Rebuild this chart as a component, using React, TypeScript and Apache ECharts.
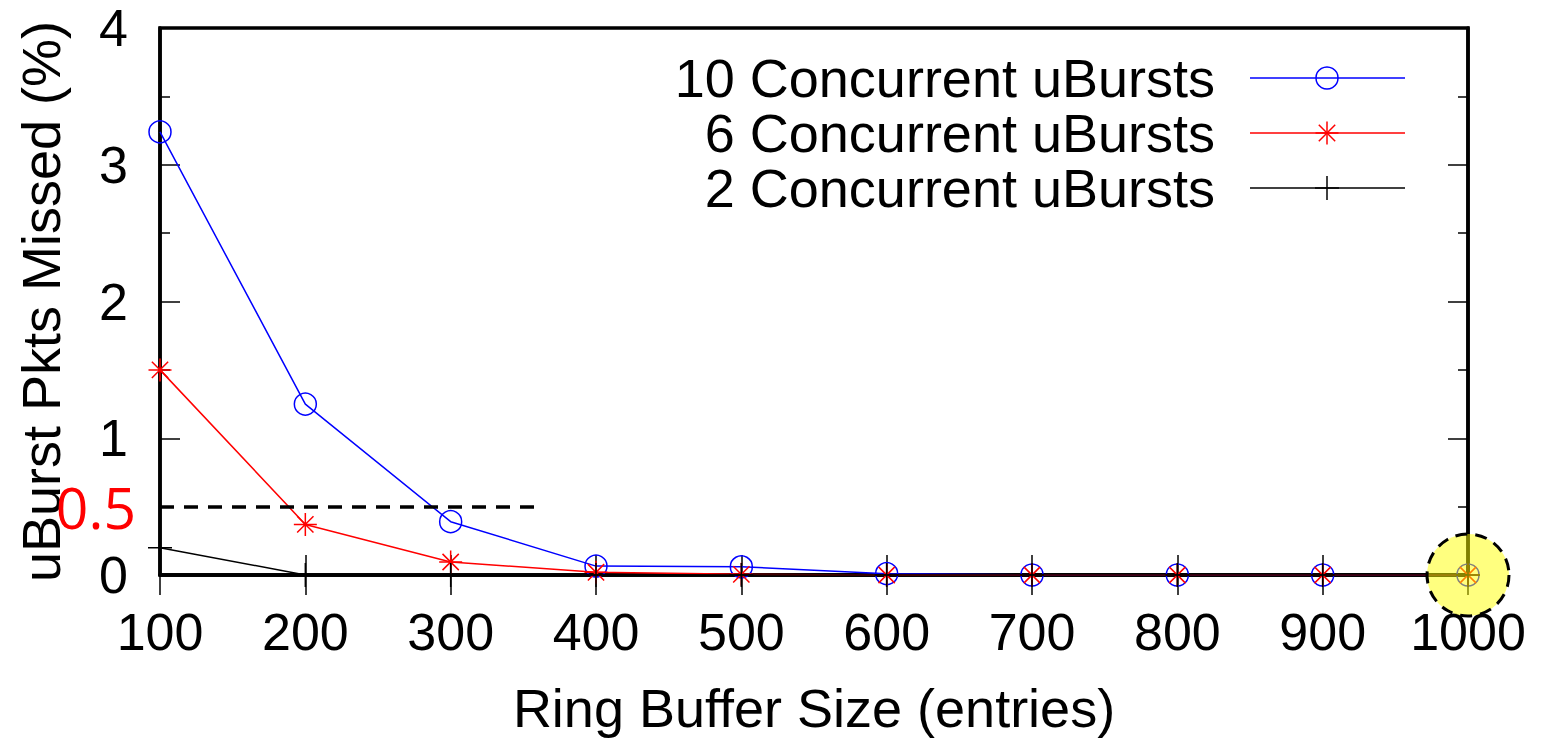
import React, { useEffect, useRef } from "react";
import * as echarts from "echarts";

const xValues = [100, 200, 300, 400, 500, 600, 700, 800, 900, 1000];
const tenBursts = [3.24, 1.25, 0.39, 0.065, 0.06, 0.01, 0, 0, 0, 0];
const sixBursts = [1.5, 0.37, 0.095, 0.02, 0.005, 0, 0, 0, 0, 0];
const twoBursts = [0.2, 0, 0, 0, 0, 0, 0, 0, 0, 0];
const seriesNames = ["10 Concurrent uBursts", "6 Concurrent uBursts", "2 Concurrent uBursts"];
const thresholdValue = 0.5;
const thresholdStartX = 100;
const thresholdEndX = 360;
const highlightPoint = [1000, 0];

const FONT = "'Liberation Sans', Arial, sans-serif";
const ASTERISK = "path://M12,0L12,24M0,12L24,12M3.5,3.5L20.5,20.5M3.5,20.5L20.5,3.5";
const PLUS = "path://M12,0L12,24M0,12L24,12";

function pairs(ys: number[]) {
  return xValues.map((x, i) => [x, ys[i]]);
}

export default function App() {
  const ref = useRef<HTMLDivElement>(null);
  useEffect(() => {
    if (!ref.current) return;
    const chart = echarts.init(ref.current, null, { renderer: "svg" });
    const legendX = 1215;
    const legendRows = [78, 133, 188];
    const lineX1 = 1250, lineX2 = 1405, mX = 1327;
    const graphics: any[] = [];
    const colors = ["#0000ff", "#ff0000", "#000000"];
    legendRows.forEach((y, i) => {
      graphics.push({
        type: "text", x: legendX, y,
        style: { text: seriesNames[i], fill: "#000", font: `54px ${FONT}`, textAlign: "right", textVerticalAlign: "middle" },
      });
      graphics.push({ type: "line", shape: { x1: lineX1, y1: y, x2: lineX2, y2: y }, style: { stroke: colors[i], lineWidth: 1.5 } });
    });
    graphics.push({ type: "circle", shape: { cx: mX, cy: legendRows[0], r: 11 }, style: { fill: "none", stroke: colors[0], lineWidth: 1.5 } });
    const s = 11.5, d = 8.2;
    [[0, -s, 0, s], [-s, 0, s, 0], [-d, -d, d, d], [-d, d, d, -d]].forEach(([a, b, c, e]) =>
      graphics.push({ type: "line", shape: { x1: mX + a, y1: legendRows[1] + b, x2: mX + c, y2: legendRows[1] + e }, style: { stroke: colors[1], lineWidth: 1.5 } })
    );
    [[0, -12, 0, 12], [-12, 0, 12, 0]].forEach(([a, b, c, e]) =>
      graphics.push({ type: "line", shape: { x1: mX + a, y1: legendRows[2] + b, x2: mX + c, y2: legendRows[2] + e }, style: { stroke: colors[2], lineWidth: 1.5 } })
    );

    const axisLabel = { color: "#000", fontSize: 52, fontFamily: FONT, formatter: (v: number) => String(v) };
    chart.setOption({
      animation: false,
      backgroundColor: "#fff",
      grid: {
        left: 160, right: 77, top: 28, bottom: 166, containLabel: false, outerBoundsMode: "none",
        show: true, borderColor: "#000", borderWidth: 3.5, backgroundColor: "transparent",
      },
      xAxis: [
        {
          type: "value", min: 100, max: 1000, interval: 100,
          name: "Ring Buffer Size (entries)", nameLocation: "middle", nameGap: 106,
          nameTextStyle: { color: "#000", fontSize: 54, fontFamily: FONT },
          axisLine: { show: true, onZero: false, lineStyle: { color: "#000", width: 3.5 } },
          axisTick: { show: true, inside: true, length: 20, lineStyle: { color: "#000", width: 1.5 } },
          axisLabel: { ...axisLabel, margin: 31 },
          splitLine: { show: false },
        },
        {
          type: "value", position: "top", min: 100, max: 1000, interval: 100,
          axisLine: { show: true, lineStyle: { color: "#000", width: 3.5 } },
          axisTick: { show: true, inside: true, length: 20, lineStyle: { color: "#000", width: 1.5 } },
          axisLabel: { show: false }, splitLine: { show: false },
        },
      ],
      yAxis: [
        {
          type: "value", min: 0, max: 4, interval: 1,
          name: "uBurst Pkts Missed (%)", nameLocation: "middle", nameGap: 92,
          nameTextStyle: { color: "#000", fontSize: 54, fontFamily: FONT },
          axisLine: { show: true, onZero: false, lineStyle: { color: "#000", width: 3.5 } },
          axisTick: { show: true, inside: true, length: 20, lineStyle: { color: "#000", width: 1.5 } },
          minorTick: { show: true, splitNumber: 2, length: 10, lineStyle: { color: "#000", width: 1.5 } },
          axisLabel: { ...axisLabel, margin: 32 },
          splitLine: { show: false },
        },
        {
          type: "value", position: "right", min: 0, max: 4, interval: 1,
          axisLine: { show: true, lineStyle: { color: "#000", width: 3.5 } },
          axisTick: { show: true, inside: true, length: 20, lineStyle: { color: "#000", width: 1.5 } },
          minorTick: { show: true, splitNumber: 2, length: 10, lineStyle: { color: "#000", width: 1.5 } },
          axisLabel: { show: false }, splitLine: { show: false },
        },
      ],
      series: [
        {
          name: seriesNames[0], type: "line", data: pairs(tenBursts),
          symbol: "circle", symbolSize: 22,
          lineStyle: { color: "#0000ff", width: 1.5 },
          itemStyle: { color: "rgba(0,0,0,0)", borderColor: "#0000ff", borderWidth: 1.5 },
          z: 3,
        },
        {
          name: seriesNames[1], type: "line", data: pairs(sixBursts),
          symbol: ASTERISK, symbolSize: 23,
          lineStyle: { color: "#ff0000", width: 1.5 },
          itemStyle: { color: "rgba(0,0,0,0)", borderColor: "#ff0000", borderWidth: 1.5 },
          z: 4,
          markLine: {
            silent: true, symbol: "none",
            lineStyle: { color: "#000", width: 3.5, type: [14, 10] },
            label: { show: true, position: "start", formatter: "0.5", color: "#ff0000", fontSize: 57, fontFamily: "'Open Sans', 'Noto Sans', sans-serif", distance: 24 },
            data: [[{ coord: [thresholdStartX, thresholdValue] }, { coord: [thresholdEndX, thresholdValue] }]],
          },
        },
        {
          name: seriesNames[2], type: "line", data: pairs(twoBursts),
          symbol: PLUS, symbolSize: 24,
          lineStyle: { color: "#000", width: 1.5 },
          itemStyle: { color: "rgba(0,0,0,0)", borderColor: "#000", borderWidth: 1.5 },
          z: 5,
          markPoint: {
            silent: true, symbol: "circle", symbolSize: 82,
            itemStyle: { color: "rgba(255,255,0,0.5)", borderColor: "#000", borderWidth: 3, borderType: [12, 8] },
            label: { show: false },
            data: [{ coord: highlightPoint }],
            z: 10,
          },
        },
      ],
      graphic: graphics,
    });
    return () => chart.dispose();
  }, []);
  return <div ref={ref} style={{ position: "fixed", left: 0, top: 0, width: 1545, height: 741 }} />;
}
